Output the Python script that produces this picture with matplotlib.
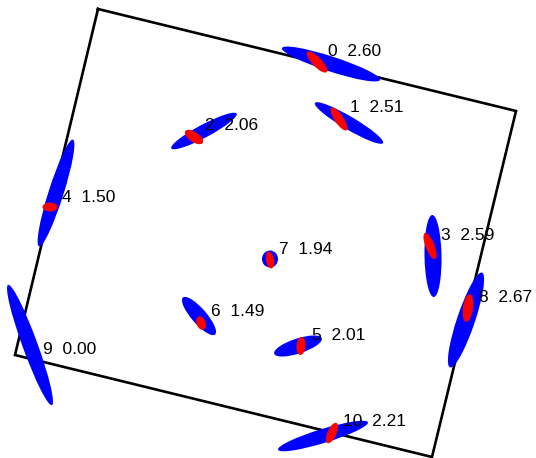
import numpy as np
import matplotlib
matplotlib.use("Agg")
import matplotlib.pyplot as plt
from matplotlib.patches import Ellipse

plt.rcParams["font.family"] = ["Liberation Sans", "DejaVu Sans"]

# frame corners (pixel space, y pointing down)
frame_x = [98, 516, 432, 15]
frame_y = [9, 111, 457, 355]

# station ids and their scores
ids = [0, 1, 2, 3, 4, 5, 6, 7, 8, 9, 10]
scores = [2.60, 2.51, 2.06, 2.59, 1.50, 2.01, 1.49, 1.94, 2.67, 0.00, 2.21]

# outer (blue) error ellipses
cx = [331, 349, 204, 433, 56, 298, 199, 270, 466, 30, 323]
cy = [64, 123, 131, 256, 193, 346, 316, 259, 320, 345, 436]
big_len = [103, 79, 74, 82, 112, 50, 49, 17, 100, 128, 94]
big_wid = [15, 13, 13, 17, 15, 15, 15, 16, 18, 15, 14]
big_ang = [18, 30.5, -28, 89, 107.6, -18, 49, 90, 108.6, 70, -17]

# inner (red) ellipses
rx = [317, 339, 194, 430, 50, 301, 201, 270, 468, 30, 332]
ry = [62, 119, 137, 246, 207, 346, 323, 260, 308, 345, 433]
small_len = [28, 27, 21, 28, 15, 18, 14, 17, 28, 0, 22]
small_wid = [9.5, 9, 10, 9, 9, 9, 9, 8, 10, 0, 9]
small_ang = [46, 56, 34, 69, 0, 95, 70, 80, 98, 0, 114]

# label anchors (left edge, vertical centre)
lx = [328, 350, 205, 441, 62, 312, 211, 279, 479, 43, 343]
ly = [51, 108, 126, 235, 197, 336, 312, 249, 298, 350, 422]

fig = plt.figure(figsize=(5.36, 4.58), dpi=100)
ax = fig.add_axes([0, 0, 1, 1])
ax.set_xlim(0, 536)
ax.set_ylim(458, 0)
ax.axis("off")

ax.plot(frame_x + frame_x[:1], frame_y + frame_y[:1], color="black", lw=1.9,
        solid_joinstyle="miter", zorder=1)

for i in range(len(ids)):
    ax.add_patch(Ellipse((cx[i], cy[i]), big_len[i], big_wid[i], angle=big_ang[i],
                         facecolor="#0000ff", edgecolor="none", zorder=2))
    if small_len[i] > 0:
        ax.add_patch(Ellipse((rx[i], ry[i]), small_len[i], small_wid[i], angle=small_ang[i],
                             facecolor="#ff0000", edgecolor="none", zorder=3))
    ax.text(lx[i], ly[i], f"{ids[i]}  {scores[i]:.2f}", fontsize=12.5,
            ha="left", va="center", color="black", zorder=4)

fig.savefig("out.png", dpi=100)
